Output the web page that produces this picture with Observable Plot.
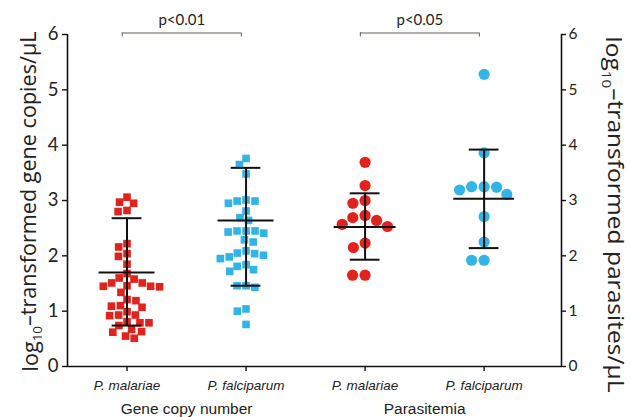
<!DOCTYPE html>
<html>
<head>
<meta charset="utf-8">
<script src="https://cdn.jsdelivr.net/npm/d3@7"></script>
<script src="https://cdn.jsdelivr.net/npm/@observablehq/plot@0.6"></script>
<style>
  html, body { margin: 0; padding: 0; background: #fff; }
  svg { display: block; }
</style>
</head>
<body>
<div id="chart"></div>
<script>
// ---- data ----
const categories = ["P. malariae", "P. falciparum", "P. malariae", "P. falciparum"];
const malariaeCopies = [3.06, 2.97, 2.95, 2.82, 2.80, 2.22, 2.16, 2.04, 1.99, 1.85, 1.68, 1.60, 1.58, 1.51, 1.51, 1.46, 1.45, 1.44, 1.45, 1.34, 1.21, 1.19, 1.10, 1.09, 1.07, 0.99, 0.93, 0.92, 0.93, 0.81, 0.79, 0.79, 0.74, 0.67, 0.62, 0.63, 0.55, 0.51];
const falciparumCopies = [3.76, 3.65, 3.48, 3.01, 2.99, 2.95, 2.99, 2.81, 2.69, 2.64, 2.45, 2.41, 2.45, 2.43, 2.45, 2.29, 2.25, 2.09, 2.04, 2.01, 2.05, 1.95, 1.98, 1.84, 1.75, 1.81, 1.72, 1.46, 1.43, 1.46, 1.04, 1.00, 0.76];
const malariaeParasites = [3.69, 3.27, 2.95, 3.00, 2.73, 2.69, 2.64, 2.57, 2.53, 2.23, 2.15, 1.65, 1.65];
const falciparumParasites = [5.28, 3.86, 3.24, 3.25, 3.19, 3.25, 3.11, 2.71, 2.25, 1.92, 1.92];
const groupMeans = [1.70, 2.64, 2.52, 3.03];
const groupSdLow = [0.74, 1.46, 1.93, 2.14];
const groupSdHigh = [2.68, 3.59, 3.13, 3.92];
const yTicks = [0, 1, 2, 3, 4, 5, 6];
const sections = ["Gene copy number", "Parasitemia"];
const pLabels = ["p<0.01", "p<0.05"];
const leftLabel = "log10–transformed gene copies/μL";
const rightLabel = "log10–transformed parasites/μL";

// ---- layout / style ----
const W = 631, H = 417, ML = 67, MR = 70, MT = 34, MB = 51;
const xDomain = [-0.5, 3.65];
const RED = "#e2231d", BLUE = "#33b4e6";
const kx = (W - ML - MR) / (xDomain[1] - xDomain[0]);
const ky = (H - MT - MB) / 6;

// simple beeswarm layout (horizontal offsets in x units)
function swarm(values, diameter) {
  const placed = [];
  const off = new Array(values.length);
  const order = values.map((v, i) => i).sort((a, b) => values[b] - values[a]);
  const d2 = diameter * diameter;
  for (const i of order) {
    const py = values[i] * ky;
    const cands = [0];
    for (const p of placed) {
      const dy = py - p.py;
      if (Math.abs(dy) < diameter) {
        const dx = Math.sqrt(d2 - dy * dy);
        cands.push(p.px - dx, p.px + dx);
      }
    }
    cands.sort((a, b) => Math.abs(a) - Math.abs(b));
    const px = cands.find(c => placed.every(p => (c - p.px) ** 2 + (py - p.py) ** 2 >= d2 - 1e-6));
    placed.push({px, py});
    off[i] = px / kx;
  }
  return off;
}

const groups = [
  {values: malariaeCopies, symbol: "square", color: RED, diam: 9},
  {values: falciparumCopies, symbol: "square", color: BLUE, diam: 9},
  {values: malariaeParasites, symbol: "circle", color: RED, diam: 12.5},
  {values: falciparumParasites, symbol: "circle", color: BLUE, diam: 12.5}
];
const points = groups.flatMap((grp, g) => {
  const off = swarm(grp.values, grp.diam);
  return grp.values.map((v, i) => ({g, v, x: g + off[i], symbol: grp.symbol, color: grp.color}));
});
const meanHalf = [0.235, 0.235, 0.26, 0.255];
const stats = categories.map((c, g) => ({g, mean: groupMeans[g], lo: groupSdLow[g], hi: groupSdHigh[g], half: meanHalf[g]}));
const caps = stats.flatMap(s => [{g: s.g, y: s.lo}, {g: s.g, y: s.hi}]);
const cats = categories.map((name, g) => ({g, name}));
const secs = sections.map((name, k) => ({name, x: 2 * k + 0.5}));
const brackets = pLabels.map((label, k) => ({label, a: 2 * k - 0.04, b: 2 * k + 1 - 0.04}));
const bracketEnds = brackets.flatMap(b => [b.a, b.b]);

const chart = Plot.plot({
  width: W, height: H,
  marginLeft: ML, marginRight: MR, marginTop: MT, marginBottom: MB,
  x: {domain: xDomain, axis: null},
  y: {domain: [0, 6], axis: null},
  style: {background: "white", fontFamily: "Lato, sans-serif", overflow: "visible", color: "#111"},
  marks: [
    // axes lines
    Plot.ruleX([xDomain[0]], {stroke: "#111", strokeWidth: 1.6}),
    Plot.ruleX([xDomain[1]], {stroke: "#111", strokeWidth: 1.6}),
    Plot.ruleY([0], {stroke: "#111", strokeWidth: 1.6}),
    // left ticks + labels
    Plot.ruleY(yTicks, {y: d => d, x1: xDomain[0], x2: xDomain[0], insetLeft: -5, stroke: "#111", strokeWidth: 1.4}),
    Plot.text(yTicks, {x: xDomain[0], y: d => d, text: d => String(d), dx: -9, textAnchor: "end", fontSize: 18.5, fill: "#222"}),
    // right ticks + labels
    Plot.ruleY(yTicks, {y: d => d, x1: xDomain[1], x2: xDomain[1], insetRight: -5, stroke: "#111", strokeWidth: 1.4}),
    Plot.text(yTicks, {x: xDomain[1], y: d => d, text: d => String(d), dx: 7, textAnchor: "start", fontSize: 15.5, fill: "#222"}),
    // x ticks + category labels
    Plot.ruleX(cats, {x: "g", y1: 0, y2: 0, insetBottom: -5, stroke: "#111", strokeWidth: 1.4}),
    Plot.text(cats, {x: "g", y: 0, text: "name", dy: 19, fontStyle: "italic", fontFamily: "Liberation Sans, Arial, sans-serif", fontSize: 13.5, fill: "#222"}),
    Plot.text(secs, {x: "x", y: 0, text: "name", dy: 43, fontFamily: "Liberation Sans, Arial, sans-serif", fontSize: 15.5, fill: "#222"}),
    // points
    Plot.dot(points.filter(d => d.symbol === "square"), {x: "x", y: "v", symbol: "square", r: 4.3, fill: "color", stroke: null}),
    Plot.dot(points.filter(d => d.symbol === "circle"), {x: "x", y: "v", r: 5.6, fill: "color", stroke: null}),
    // mean and SD
    Plot.ruleY(stats, {y: "mean", x1: d => d.g - d.half, x2: d => d.g + d.half, stroke: "#111", strokeWidth: 2}),
    Plot.ruleY(caps, {y: "y", x1: d => d.g - 0.125, x2: d => d.g + 0.125, stroke: "#111", strokeWidth: 2}),
    Plot.ruleX(stats, {x: "g", y1: "lo", y2: "hi", stroke: "#111", strokeWidth: 2}),
    // significance brackets
    Plot.ruleY(brackets, {y: 6, x1: "a", x2: "b", dy: -1.5, stroke: "#6b5a55", strokeWidth: 1}),
    Plot.ruleX(bracketEnds, {x: d => d, y1: 6, y2: 6, dy: -1.5, insetBottom: -4, stroke: "#6b5a55", strokeWidth: 1}),
    Plot.text(brackets, {x: d => (d.a + d.b) / 2, y: 6, text: "label", dy: -14, fontSize: 15, fill: "#222"}),
    // axis titles
    Plot.text([leftLabel], {frameAnchor: "left", textAnchor: "middle", text: d => d, rotate: -90, dx: -36, dy: 1, fontSize: 21, fontFamily: "Open Sans, sans-serif", fill: "#222"}),
    Plot.text([rightLabel], {frameAnchor: "right", textAnchor: "middle", text: d => d, rotate: 90, dx: 51, dy: 14, fontSize: 21, fontFamily: "Open Sans, sans-serif", fill: "#222"})
  ]
});

// subscript "10" in the axis titles, and overall length matching the reference
d3.select(chart).selectAll("text").each(function () {
  const t = this.textContent;
  if (t.startsWith("log10")) {
    const sel = d3.select(this);
    sel.text(null);
    sel.append("tspan").text("log");
    sel.append("tspan").attr("font-size", "0.62em").attr("dy", "0.3em").text("10");
    sel.append("tspan").attr("dy", "-0.3em").text(t.slice(5));
    sel.attr("textLength", t === leftLabel ? 340 : 356).attr("lengthAdjust", "spacingAndGlyphs");
  }
});

document.getElementById("chart").append(chart);
</script>
</body>
</html>
